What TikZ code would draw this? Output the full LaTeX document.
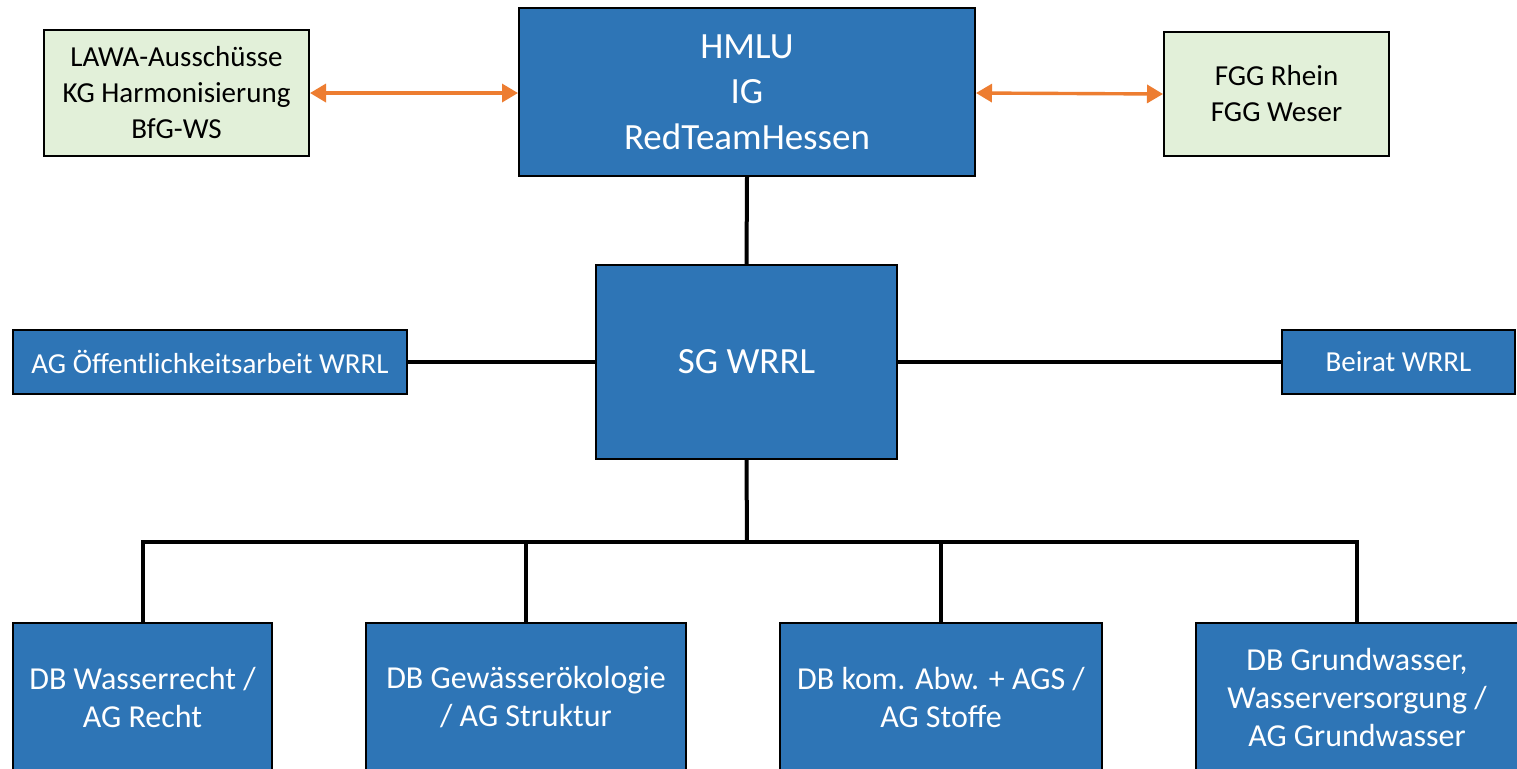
\documentclass[tikz,border=0pt]{standalone}
\usepackage{fontspec}
\setmainfont{Carlito}
\usetikzlibrary{arrows.meta}
\definecolor{boxblue}{HTML}{2E75B6}
\definecolor{boxgreen}{HTML}{E2F0D9}
\definecolor{arrorange}{HTML}{ED7D31}
\tikzset{
  bluebox/.style={draw=black, line width=1pt, fill=boxblue, text=white, align=center, inner sep=0pt},
  greenbox/.style={draw=black, line width=1pt, fill=boxgreen, text=black, align=center, inner sep=0pt},
  link/.style={line width=2pt, black},
  biarrow/.style={arrorange, line width=1.7pt, {Triangle[length=8pt,width=9pt]}-{Triangle[length=8pt,width=9pt]}},
  bigtext/.style={font=\fontsize{18.5pt}{22.7pt}\selectfont},
  midtext/.style={font=\fontsize{16pt}{19pt}\selectfont},
  smalltext/.style={font=\fontsize{14.5pt}{18pt}\selectfont},
}
\begin{document}
\begin{tikzpicture}[x=0.5pt, y=-0.5pt]
\useasboundingbox (0,0) rectangle (1517,768);
\fill[white] (0,0) rectangle (1517,768);

\node[bluebox, bigtext, minimum width=228pt, minimum height=84pt] (hmlu) at (747,92) {HMLU\\IG\\RedTeamHessen};
\node[greenbox, smalltext, minimum width=132.5pt, minimum height=63pt] (lawa) at (176.5,93) {LAWA-Ausschüsse\\KG Harmonisierung\\BfG-WS};
\node[greenbox, smalltext, minimum width=112.5pt, minimum height=62pt] (fgg) at (1276.5,94) {FGG Rhein\\FGG Weser};

\node[bluebox, bigtext, minimum width=150.5pt, minimum height=97pt] (sg) at (746.5,362) {SG WRRL};
\node[bluebox, smalltext, minimum width=197pt, minimum height=32pt] (ago) at (210,362) {AG Öffentlichkeitsarbeit WRRL};
\node[bluebox, smalltext, minimum width=116.5pt, minimum height=32pt] (beirat) at (1398.5,362) {Beirat WRRL};

\node[bluebox, midtext, minimum width=129.5pt, minimum height=74pt] (b1) at (142.5,697) {DB Wasserrecht /\\AG Recht};
\node[bluebox, midtext, minimum width=160pt, minimum height=74pt] (b2) at (526,697) {DB Gewässerökologie\\/ AG Struktur};
\node[bluebox, midtext, minimum width=161pt, minimum height=74pt] (b3) at (941,697) {DB kom. Abw. + AGS /\\AG Stoffe};
\node[bluebox, midtext, minimum width=161pt, minimum height=74pt] (b4) at (1357,697) {DB Grundwasser,\\Wasserversorgung /\\AG Grundwasser};

\draw[biarrow] (lawa.east) -- (hmlu.west |- lawa.east);
\draw[biarrow] (hmlu.east |- lawa.east) -- (fgg.west);

\draw[link] (hmlu.south) -- (sg.north);
\draw[link] (ago.east) -- (sg.west);
\draw[link] (sg.east) -- (beirat.west);

\coordinate (busy) at (747,542);
\draw[link] (sg.south) -- (busy);
\draw[link, line cap=rect] (b1.north |- busy) -- (b4.north |- busy);
\draw[link] (b1.north |- busy) -- (b1.north);
\draw[link] (b2.north |- busy) -- (b2.north);
\draw[link] (b3.north |- busy) -- (b3.north);
\draw[link] (b4.north |- busy) -- (b4.north);
\end{tikzpicture}
\end{document}
